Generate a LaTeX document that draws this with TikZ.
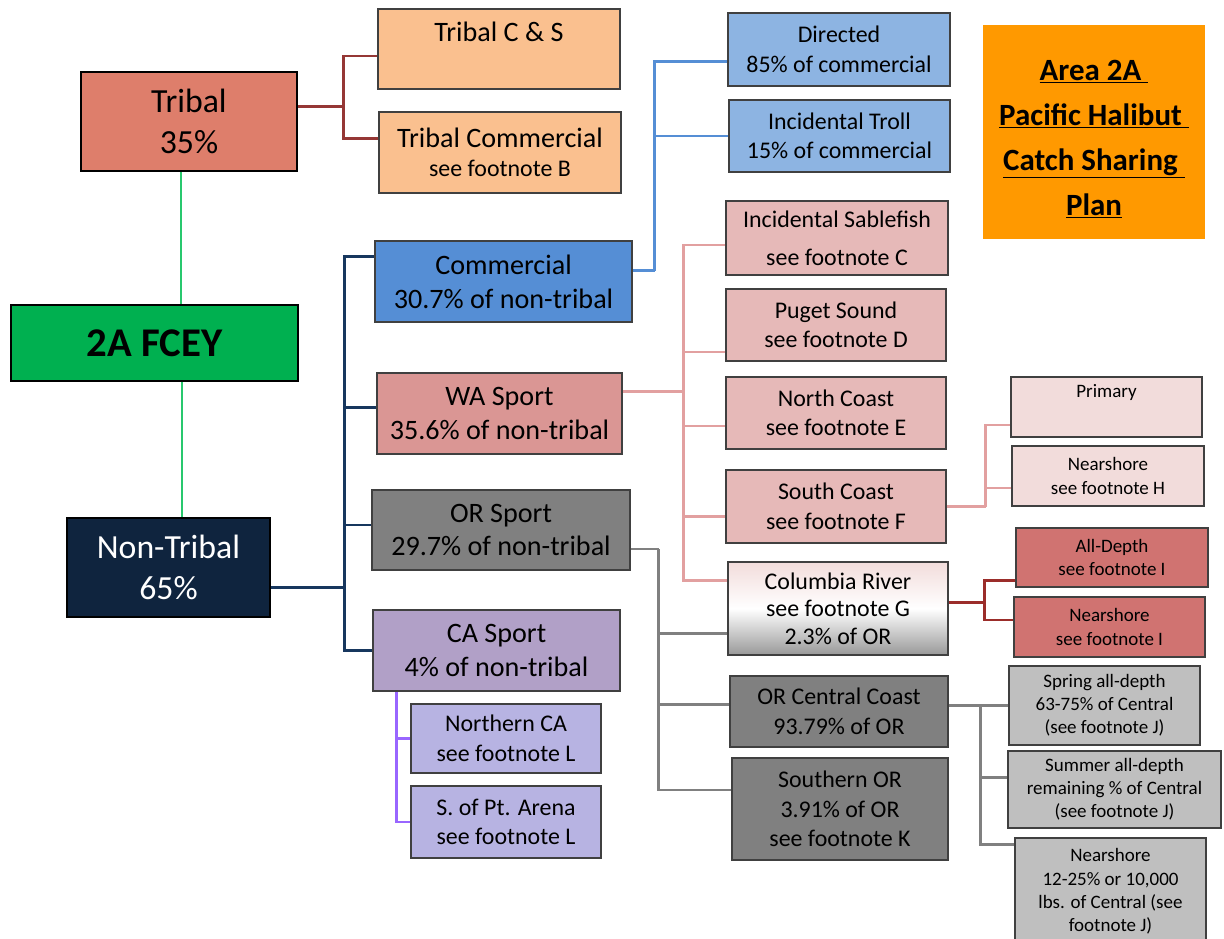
\documentclass[tikz,border=0pt]{standalone}
\usepackage{fontspec}
\setmainfont{Carlito}
\usetikzlibrary{positioning, calc}
\definecolor{tribred}{RGB}{222,126,107}
\definecolor{peach}{RGB}{250,192,143}
\definecolor{fceygreen}{RGB}{0,176,80}
\definecolor{navy}{RGB}{15,36,62}
\definecolor{commblue}{RGB}{85,142,213}
\definecolor{lightblue}{RGB}{141,180,226}
\definecolor{wapink}{RGB}{218,150,148}
\definecolor{rose}{RGB}{230,185,184}
\definecolor{palerose}{RGB}{242,220,219}
\definecolor{deeprose}{RGB}{208,115,113}
\definecolor{midgray}{RGB}{128,128,128}
\definecolor{palegray}{RGB}{191,191,191}
\definecolor{caviolet}{RGB}{177,160,199}
\definecolor{lavender}{RGB}{183,179,226}
\definecolor{titleorange}{RGB}{255,153,0}
\definecolor{tribline}{RGB}{149,55,53}
\definecolor{greenline}{RGB}{40,200,110}
\definecolor{navyline}{RGB}{23,55,94}
\definecolor{pinkline}{RGB}{226,160,160}
\definecolor{redline}{RGB}{155,45,42}
\definecolor{violetline}{RGB}{153,102,255}
\tikzset{
box/.style={draw=black!75, line width=1.3pt, align=center, inner sep=1pt}, % every box
topbox/.style={box, draw=black, line width=1.8pt}, % the three boxes on the left
wd/.style={minimum width=#1*0.025cm}, % width in pixels of the reference
ht/.style={minimum height=#1*0.025cm}, % height in pixels of the reference
lvla/.style={font=\fontsize{24}{29}\selectfont},
lvlb/.style={font=\fontsize{20}{24}\selectfont},
lvlc/.style={font=\fontsize{17}{21}\selectfont},
lvld/.style={font=\fontsize{13.5}{16.5}\selectfont},
link/.style={line width=2.1pt}, % connector lines
}
\begin{document}
\begin{tikzpicture}[x=0.025cm, y=-0.025cm]
\useasboundingbox[fill=white] (0,0) rectangle (1224,939);

% left column
\node[topbox, lvla, fill=tribred, wd=216, ht=99] (tribal) at (189,121.5) {Tribal\\35\%};
\node[topbox, fill=fceygreen, wd=287, ht=76, font=\fontsize{29}{34}\selectfont\bfseries] (fcey) at (154.5,343) {2A FCEY};
\node[topbox, lvla, fill=navy, text=white, wd=203, ht=99] (nontribal) at (168.5,567.5) {Non-Tribal\\65\%};

% tribal
\node[box, lvlb, fill=peach, wd=242, ht=80] (tribal_cs) at (499,49) {Tribal C \& S\\~};
\node[box, fill=peach, wd=242, ht=81, font=\fontsize{20}{21}\selectfont] (tribal_comm) at (500,152.5) {Tribal Commercial\\{\fontsize{17}{20}\selectfont see footnote B}};

% non-tribal
\node[box, lvlb, fill=commblue, wd=257, ht=81] (comm) at (503.5,281.5) {Commercial\\30.7\% of non-tribal};
\node[box, lvlb, fill=wapink, wd=245, ht=81] (wasport) at (499.5,413.5) {WA Sport\\35.6\% of non-tribal};
\node[box, lvlb, fill=midgray, wd=258, ht=80] (orsport) at (501,530) {OR Sport\\29.7\% of non-tribal};
\node[box, lvlb, fill=caviolet, wd=247, ht=81] (casport) at (496.5,650.5) {CA Sport\\4\% of non-tribal};
\node[box, lvlc, fill=lavender, wd=190, ht=69] (northca) at (506,738.5) {Northern CA\\see footnote L};
\node[box, lvlc, fill=lavender, wd=190, ht=72] (ptarena) at (506,822) {S. of Pt. Arena\\see footnote L};

% commercial
\node[box, lvlc, fill=lightblue, wd=222, ht=73] (directed) at (839,49.5) {Directed\\85\% of commercial};
\node[box, lvlc, fill=lightblue, wd=221, ht=72] (troll) at (839.5,136) {Incidental Troll\\15\% of commercial};

% wa sport
\node[box, fill=rose, wd=222, ht=74, font=\fontsize{17}{27}\selectfont] (sablefish) at (837,238) {Incidental Sablefish\\see footnote C};
\node[box, lvlc, fill=rose, wd=220, ht=72] (puget) at (836,325) {Puget Sound\\see footnote D};
\node[box, lvlc, fill=rose, wd=220, ht=72] (northcoast) at (836,413) {North Coast\\see footnote E};
\node[box, lvlc, fill=rose, wd=220, ht=73] (southcoast) at (836,506.5) {South Coast\\see footnote F};
\node[box, fill=palerose, top color=palerose, bottom color=palegray!80!black, middle color=white, wd=220, ht=93, font=\fontsize{17}{19.5}\selectfont] (colriver) at (838,608.5) {Columbia River\\see footnote G\\2.3\% of OR};
\node[box, lvld, fill=palerose, wd=191, ht=60] (primary) at (1106.5,407) {Primary\\[6pt]~};
\node[box, lvld, fill=palerose, wd=192, ht=60] (nearshore_h) at (1108,476) {Nearshore\\see footnote H};
\node[box, lvld, fill=deeprose, wd=192, ht=59] (alldepth) at (1112,557.5) {All-Depth\\see footnote I};
\node[box, lvld, fill=deeprose, wd=191, ht=60] (nearshore_i) at (1109.5,627) {Nearshore\\see footnote I};

% or sport
\node[box, lvlc, fill=midgray, wd=218, ht=71] (orcentral) at (839,711.5) {OR Central Coast\\93.79\% of OR};
\node[box, lvlc, fill=midgray, wd=216, ht=102] (southor) at (840,809) {Southern OR\\3.91\% of OR\\see footnote K};
\node[box, lvld, fill=palegray, wd=191, ht=79] (spring) at (1104.5,705.5) {Spring all-depth\\63-75\% of Central\\(see footnote J)};
\node[box, lvld, fill=palegray, wd=213, ht=77] (summer) at (1114.5,789.5) {Summer all-depth\\remaining \% of Central\\(see footnote J)};
\node[box, lvld, fill=palegray, wd=191, ht=107] (nearshore_j) at (1110.5,891.5) {Nearshore\\12-25\% or 10,000\\lbs. of Central (see\\footnote J)};

% title
\node[fill=titleorange, wd=222, ht=214, align=center, font=\fontsize{22}{32}\selectfont\bfseries] (title) at (1094,132) {\rule{0pt}{25pt}\underline{Area 2A\ }\\\underline{Pacific Halibut\ }\\\underline{Catch Sharing\ }\\\underline{Plan}};

% connectors
\draw[link, tribline] ($(tribal.east)+(0,-15)$) -- ++(45,0) |- ($(tribal_cs.west)+(0,7)$);
\draw[link, tribline] ($(tribal.east)+(0,-15)$) -- ++(45,0) |- ($(tribal_comm.west)+(0,-14)$);
\draw[link, greenline] ($(tribal.south)+(-8,0)$) -- ($(tribal.south |- fcey.north)+(-8,0)$);
\draw[link, greenline] ($(tribal.south |- fcey.south)+(-7,0)$) -- ($(tribal.south |- nontribal.north)+(-7,0)$);

\draw[link, navyline] ($(nontribal.east)+(0,20)$) -- ++(73,0) coordinate (nt_trunk);
\draw[link, navyline] (nt_trunk) |- ($(comm.west)+(0,-25)$);
\draw[link, navyline] (nt_trunk) |- ($(wasport.west)+(0,-6)$);
\draw[link, navyline] (nt_trunk) |- ($(orsport.west)+(0,-5)$);
\draw[link, navyline] (nt_trunk) |- (casport.west);

\draw[link, commblue] ($(comm.east)+(0,-11)$) -- ++(22,0) coordinate (comm_trunk);
\draw[link, commblue] (comm_trunk) |- ($(directed.west)+(0,12)$);
\draw[link, commblue] (comm_trunk) |- (troll.west);

\draw[link, pinkline] ($(wasport.east)+(0,-22)$) -- ++(61,0) coordinate (wa_trunk);
\draw[link, pinkline] (wa_trunk) |- ($(sablefish.west)+(0,7)$);
\draw[link, pinkline] (wa_trunk) |- ($(puget.west)+(0,27)$);
\draw[link, pinkline] (wa_trunk) |- ($(northcoast.west)+(0,13)$);
\draw[link, pinkline] (wa_trunk) |- ($(southcoast.west)+(0,10)$);
\draw[link, pinkline] (wa_trunk) |- ($(colriver.west)+(0,-28)$);

\draw[link, pinkline] (southcoast.east) -- ++(39,0) coordinate (sc_trunk);
\draw[link, pinkline] (sc_trunk) |- ($(primary.west)+(0,18)$);
\draw[link, pinkline] (sc_trunk) |- ($(nearshore_h.west)+(0,12)$);

\draw[link, redline] ($(colriver.east)+(0,-6)$) -- ++(36,0) coordinate (cr_trunk);
\draw[link, redline] (cr_trunk) |- ($(alldepth.west)+(0,23)$);
\draw[link, redline] (cr_trunk) |- ($(nearshore_i.west)+(0,-7)$);

\draw[link, midgray] ($(orsport.east)+(0,19)$) -- ++(28,0) coordinate (or_trunk);
\draw[link, midgray] (or_trunk) |- ($(colriver.west)+(0,25)$);
\draw[link, midgray] (or_trunk) |- ($(orcentral.west)+(0,-7)$);
\draw[link, midgray] (or_trunk) |- ($(southor.west)+(0,-19)$);

\draw[link, midgray] ($(orcentral.east)+(0,-6)$) -- ++(32,0) coordinate (oc_trunk);
\draw[link, midgray] (oc_trunk) |- (spring.west);
\draw[link, midgray] (oc_trunk) |- ($(summer.west)+(0,-12)$);
\draw[link, midgray] (oc_trunk) |- ($(nearshore_j.north west)+(0,7)$);

\draw[link, violetline] ($(casport.south west)+(24,0)$) |- (northca.west);
\draw[link, violetline] ($(casport.south west)+(24,0)$) |- (ptarena.west);
\end{tikzpicture}
\end{document}
